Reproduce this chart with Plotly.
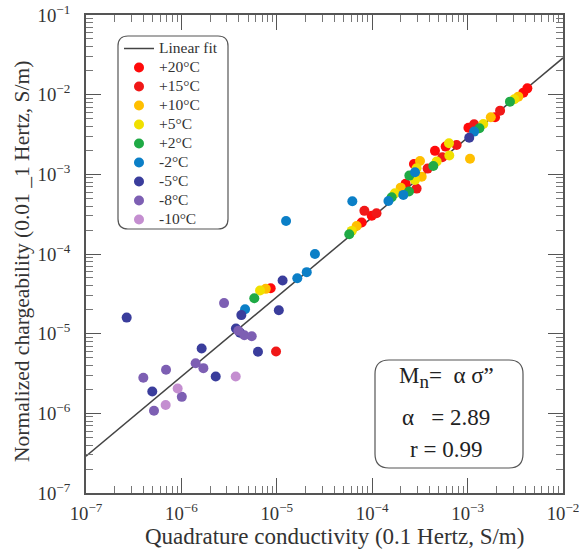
import plotly.graph_objects as go

# fit: Mn = alpha * sigma"
alpha = 2.89
fit_x = [1e-7, 1e-2]

temps = ["+20°C", "+15°C", "+10°C", "+5°C", "+2°C", "-2°C", "-5°C", "-8°C", "-10°C"]
colors = ["#ff0a0a", "#f01818", "#ffbf00", "#f0e000", "#1faa45", "#0b7fc7",
          "#3a3d9c", "#7d5fb3", "#c48ed0"]

# quadrature conductivity (S/m) and normalized chargeability (S/m) per temperature
x_p20 = [8.63e-6, 7.76e-5, 9.89e-5, 2.24e-4, 2.74e-4, 4.55e-4, 5.89e-4, 1.02e-3, 1.94e-3, 3.84e-3, 4.23e-3]
y_p20 = [3.72e-5, 2.48e-4, 3.03e-4, 7.59e-4, 1.35e-3, 1.97e-3, 2.23e-3, 3.85e-3, 5.20e-3, 1.06e-2, 1.20e-2]
x_p15 = [9.82e-6, 8.28e-5, 1.11e-4, 2.92e-4, 3.81e-4, 5.43e-4, 7.67e-4, 1.17e-3, 2.19e-3]
y_p15 = [5.96e-6, 3.48e-4, 3.25e-4, 6.62e-4, 1.18e-3, 1.64e-3, 2.34e-3, 4.25e-3, 6.30e-3]
x_p10 = [7.66e-6, 6.87e-5, 1.99e-4, 3.17e-4, 3.30e-4, 1.06e-3, 1.75e-3, 3.40e-3]
y_p10 = [3.65e-5, 2.25e-4, 6.81e-4, 1.47e-3, 9.35e-4, 1.57e-3, 5.20e-3, 9.44e-3]
x_p5 = [6.67e-6, 6.10e-5, 1.73e-4, 2.92e-4, 2.81e-4, 4.74e-4, 6.43e-4, 6.38e-4, 1.46e-3, 3.09e-3]
y_p5 = [3.48e-5, 1.95e-4, 5.78e-4, 1.19e-3, 8.51e-4, 1.45e-3, 1.72e-3, 2.45e-3, 4.29e-3, 8.75e-3]
x_p2 = [5.81e-6, 5.75e-5, 1.60e-4, 2.43e-4, 2.45e-4, 4.37e-4, 1.33e-3, 2.78e-3]
y_p2 = [2.79e-5, 1.77e-4, 5.16e-4, 6.08e-4, 9.64e-4, 1.27e-3, 3.78e-3, 8.17e-3]
x_m2 = [4.65e-6, 1.64e-5, 2.06e-5, 2.51e-5, 1.25e-5, 6.19e-5, 1.48e-4, 2.12e-4, 2.81e-4, 1.17e-3]
y_m2 = [2.03e-5, 4.97e-5, 5.92e-5, 1.00e-4, 2.60e-4, 4.59e-4, 4.63e-4, 5.52e-4, 1.06e-3, 3.44e-3]
x_m5 = [2.67e-7, 4.25e-6, 3.73e-6, 4.11e-6, 1.15e-5, 1.05e-5, 6.35e-6, 1.63e-6, 2.29e-6, 4.95e-7, 1.04e-3]
y_m5 = [1.59e-5, 1.71e-5, 1.16e-5, 1.03e-5, 4.65e-5, 1.97e-5, 5.92e-6, 6.50e-6, 2.90e-6, 1.88e-6, 2.88e-3]
x_m8 = [2.80e-6, 3.95e-6, 4.57e-6, 5.46e-6, 1.41e-6, 1.70e-6, 6.90e-7, 3.99e-7, 1.01e-6, 5.16e-7]
y_m8 = [2.42e-5, 1.09e-5, 9.57e-6, 9.29e-6, 4.26e-6, 3.69e-6, 3.52e-6, 2.79e-6, 1.61e-6, 1.08e-6]
x_m10 = [3.71e-6, 9.14e-7, 6.84e-7]
y_m10 = [2.90e-6, 2.05e-6, 1.27e-6]

xs = [x_p20, x_p15, x_p10, x_p5, x_p2, x_m2, x_m5, x_m8, x_m10]
ys = [y_p20, y_p15, y_p10, y_p5, y_p2, y_m2, y_m5, y_m8, y_m10]

FONT = "Liberation Serif"
NB = "\u00a0"

def leg(name):
    # legend font stays small so entries pack tightly; the label itself is drawn larger
    return f"<span style='font-size:15.5px'>{name}</span>"

fig = go.Figure()
fig.add_trace(go.Scatter(x=fit_x, y=[alpha * v for v in fit_x], mode="lines",
                         line=dict(color="#444", width=1.5), name=leg("Linear fit")))
for name, c, x, y in zip(temps, colors, xs, ys):
    fig.add_trace(go.Scatter(x=x, y=y, mode="markers", name=leg(name),
                             marker=dict(color=c, size=10, line=dict(width=0))))

# plot area in pixels: x 86..563, y 15..493
def px(x):
    return (x - 86) / 477

def py(y):
    return (493 - y) / 478

def rounded(x0, y0, x1, y1, r):
    return (f"M {px(x0 + r)} {py(y0)} L {px(x1 - r)} {py(y0)} "
            f"Q {px(x1)} {py(y0)} {px(x1)} {py(y0 + r)} L {px(x1)} {py(y1 - r)} "
            f"Q {px(x1)} {py(y1)} {px(x1 - r)} {py(y1)} L {px(x0 + r)} {py(y1)} "
            f"Q {px(x0)} {py(y1)} {px(x0)} {py(y1 - r)} L {px(x0)} {py(y0 + r)} "
            f"Q {px(x0)} {py(y0)} {px(x0 + r)} {py(y0)} Z")

fig.add_shape(type="path", xref="paper", yref="paper", path=rounded(118, 36, 228, 229, 10),
              line=dict(color="#555", width=1.2), fillcolor="rgba(0,0,0,0)")
fig.add_shape(type="path", xref="paper", yref="paper", path=rounded(375, 360, 523, 468, 14),
              line=dict(color="#555", width=1.2), fillcolor="rgba(0,0,0,0)")

box_lines = [
    (f"M<sub><span style='font-size:19px'>n</span></sub>={NB}{NB}α{NB}σ”", 377),
    (f"α{NB}{NB}{NB}= 2.89", 417),
    ("r = 0.99", 449),
]
for txt, yy in box_lines:
    fig.add_annotation(x=px(446), y=py(yy), xref="paper", yref="paper", text=txt,
                       xanchor="center", yanchor="middle", showarrow=False,
                       font=dict(family=FONT, size=23, color="#222"))

# axis titles placed as annotations (the x title sits a little right of centre)
fig.add_annotation(x=px(334), y=py(536), xref="paper", yref="paper",
                   text="Quadrature conductivity (0.1 Hertz, S/m)",
                   xanchor="center", yanchor="middle", showarrow=False,
                   font=dict(family=FONT, size=23, color="#333"))
fig.add_annotation(x=px(22), y=py(262), xref="paper", yref="paper", textangle=-90,
                   text="Normalized chargeability (0.01 _1 Hertz, S/m)",
                   xanchor="center", yanchor="middle", showarrow=False,
                   font=dict(family=FONT, size=21.5, color="#333"))

axis_common = dict(type="log", showgrid=False, zeroline=False, showline=True,
                   linecolor="#555", linewidth=1.5, mirror="allticks", automargin=False,
                   ticks="inside", ticklen=15, tickcolor="#555", dtick=1,
                   exponentformat="power", showexponent="all", ticklabeloverflow="allow",
                   tickfont=dict(family=FONT, size=15, color="#333"),
                   minor=dict(ticks="inside", ticklen=7, tickcolor="#777", showgrid=False))

fig.update_xaxes(range=[-7, -2], ticklabelstandoff=3, **axis_common)
fig.update_yaxes(range=[-7, -1], ticklabelstandoff=11, **axis_common)

fig.update_layout(
    width=579, height=549,
    margin=dict(l=86, r=16, t=15, b=56),
    plot_bgcolor="white", paper_bgcolor="white",
    font=dict(family=FONT, color="#333"),
    legend=dict(x=px(119), y=py(34), xanchor="left", yanchor="top",
                bgcolor="rgba(0,0,0,0)", borderwidth=0,
                font=dict(family=FONT, size=11, color="#333"),
                tracegroupgap=0, itemwidth=30),
    showlegend=True,
)

# drop the default page margin so the 579x549 figure fills the window exactly
fig.write_html("out.html", config={"displayModeBar": False},
               post_script="document.body.style.margin='0';")
